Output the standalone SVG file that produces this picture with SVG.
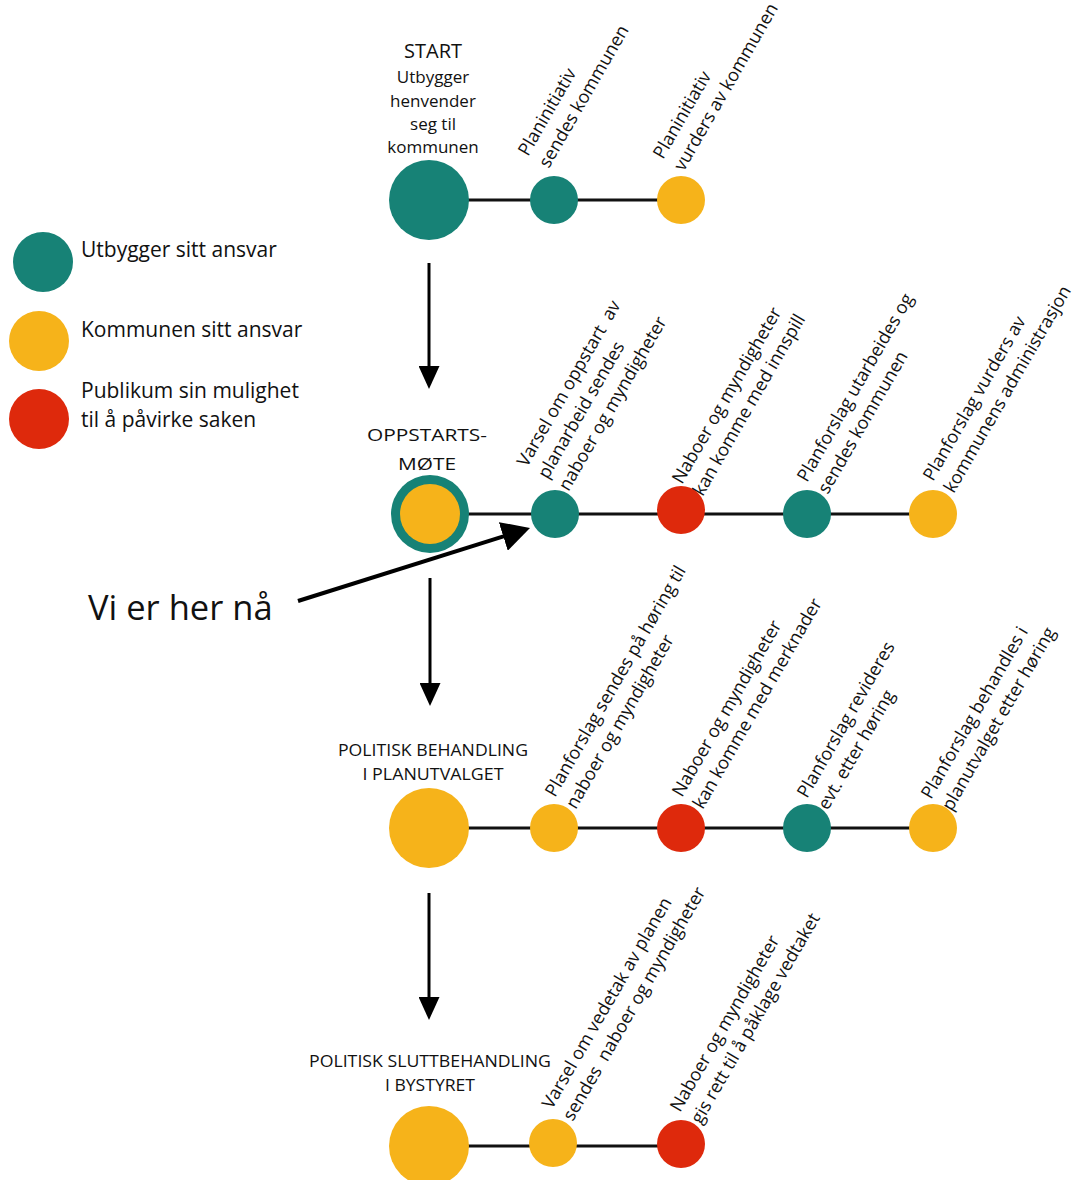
<svg xmlns="http://www.w3.org/2000/svg" width="1081" height="1180" viewBox="0 0 1081 1180">
<style>
.teal{fill:#178276}
.yellow{fill:#F6B31A}
.red{fill:#DE290C}
.lbl{font-family:"Open Sans","Noto Sans",sans-serif;font-size:18px;fill:#111}
.leg{font-family:"Open Sans","Noto Sans",sans-serif;font-size:21px;fill:#111}
.hdr{font-family:"Open Sans","Noto Sans",sans-serif;font-size:17px;fill:#111;text-anchor:middle}
.st{font-family:"Open Sans","Noto Sans",sans-serif;font-size:17px;fill:#111;text-anchor:middle}
.pre{white-space:pre}
.ln{stroke:#111;stroke-width:3;fill:none}
.arr{stroke:#000;stroke-width:3;fill:none;marker-end:url(#ah)}
</style>
<defs>
<marker id="ah" markerUnits="userSpaceOnUse" markerWidth="23" markerHeight="21" refX="5" refY="10.5" orient="auto"><path d="M0,0 L23,10.5 L0,21 z" fill="#000"/></marker>
<marker id="ahb" markerUnits="userSpaceOnUse" markerWidth="28" markerHeight="30" refX="6" refY="15" orient="auto"><path d="M0,0 L28,15 L0,30 z" fill="#000"/></marker>
</defs>
<rect width="1081" height="1180" fill="#fff"/>

<g id="connectors">
<line class="ln" x1="429" y1="200" x2="681" y2="200"/>
<line class="ln" x1="430" y1="514" x2="933" y2="514"/>
<line class="ln" x1="429" y1="828" x2="933" y2="828"/>
<line class="ln" x1="429" y1="1146" x2="681" y2="1146"/>
<line class="arr" x1="429" y1="263" x2="429" y2="371"/>
<line class="arr" x1="430" y1="578" x2="430" y2="688"/>
<line class="arr" x1="429" y1="893" x2="429" y2="1002"/>
<line x1="298" y1="601" x2="509" y2="534.6" stroke="#000" stroke-width="4" marker-end="url(#ahb)"/>
</g>

<g id="legend">
<circle class="teal" cx="43" cy="262" r="30"/>
<text class="leg" x="81" y="257">Utbygger sitt ansvar</text>
<circle class="yellow" cx="39" cy="341" r="30"/>
<text class="leg" x="81" y="337">Kommunen sitt ansvar</text>
<circle class="red" cx="39" cy="419" r="30"/>
<text class="leg" x="81" y="398">Publikum sin mulighet</text>
<text class="leg" x="81" y="427">til å påvirke saken</text>
</g>

<g id="here-label">
<text x="88" y="620" font-family="'Open Sans','Noto Sans',sans-serif" font-size="34.5" fill="#111">Vi er her nå</text>
</g>

<g id="start">
<circle class="teal" cx="429" cy="200" r="40"/>
<text font-family="'Open Sans','Noto Sans',sans-serif" font-size="20" fill="#111" text-anchor="middle" x="433" y="58">START</text>
<text class="st" x="433" y="83">Utbygger</text>
<text class="st" x="433" y="107">henvender</text>
<text class="st" x="433" y="130">seg til</text>
<text class="st" x="433" y="153">kommunen</text>
</g>
<g id="r1n1">
<circle class="teal" cx="554" cy="200" r="24"/>
<text class="lbl" transform="translate(528,157) rotate(-60)"><tspan x="0" y="0">Planinitiativ</tspan><tspan x="0" y="24">sendes kommunen</tspan></text>
</g>
<g id="r1n2">
<circle class="yellow" cx="681" cy="200" r="24"/>
<text class="lbl" transform="translate(663,160) rotate(-60)"><tspan x="0" y="0">Planinitiativ</tspan><tspan x="0" y="24">vurders av kommunen</tspan></text>
</g>

<g id="oppstart">
<circle class="teal" cx="430" cy="514" r="39"/>
<circle class="yellow" cx="430" cy="514" r="30"/>
<text class="hdr" x="427" y="441" font-size="19" textLength="120" lengthAdjust="spacingAndGlyphs">OPPSTARTS-</text>
<text class="hdr" x="427" y="470" font-size="19" textLength="58" lengthAdjust="spacingAndGlyphs">MØTE</text>
</g>
<g id="r2n1">
<circle class="teal" cx="555" cy="514" r="24"/>
<text class="lbl" transform="translate(527,468) rotate(-60)"><tspan class="pre" x="0" y="0">Varsel om oppstart  av</tspan><tspan x="0" y="24">planarbeid sendes</tspan><tspan x="0" y="48">naboer og myndigheter</tspan></text>
</g>
<g id="r2n2">
<circle class="red" cx="681" cy="510" r="24"/>
<text class="lbl" transform="translate(682,485) rotate(-60)"><tspan x="0" y="0">Naboer og myndigheter</tspan><tspan x="0" y="24">kan komme med innspill</tspan></text>
</g>
<g id="r2n3">
<circle class="teal" cx="807" cy="514" r="24"/>
<text class="lbl" transform="translate(807,483) rotate(-60)"><tspan x="0" y="0">Planforslag utarbeides og</tspan><tspan x="0" y="24">sendes kommunen</tspan></text>
</g>
<g id="r2n4">
<circle class="yellow" cx="933" cy="514" r="24"/>
<text class="lbl" transform="translate(933,482) rotate(-60)"><tspan x="0" y="0">Planforslag vurders av</tspan><tspan x="0" y="24">kommunens administrasjon</tspan></text>
</g>

<g id="planutvalg">
<circle class="yellow" cx="429" cy="828" r="40"/>
<text class="hdr" x="433" y="756" textLength="190" lengthAdjust="spacingAndGlyphs">POLITISK BEHANDLING</text>
<text class="hdr" x="433" y="780" textLength="141" lengthAdjust="spacingAndGlyphs">I PLANUTVALGET</text>
</g>
<g id="r3n1">
<circle class="yellow" cx="554" cy="828" r="24"/>
<text class="lbl" transform="translate(555,798) rotate(-60)"><tspan x="0" y="0">Planforslag sendes på høring til</tspan><tspan x="0" y="24">naboer og myndigheter</tspan></text>
</g>
<g id="r3n2">
<circle class="red" cx="681" cy="828" r="24"/>
<text class="lbl" transform="translate(682,798) rotate(-60)"><tspan x="0" y="0">Naboer og myndigheter</tspan><tspan x="0" y="24">kan komme med merknader</tspan></text>
</g>
<g id="r3n3">
<circle class="teal" cx="807" cy="828" r="24"/>
<text class="lbl" transform="translate(807,799) rotate(-60)"><tspan x="0" y="0">Planforslag revideres</tspan><tspan x="0" y="24">evt. etter høring</tspan></text>
</g>
<g id="r3n4">
<circle class="yellow" cx="933" cy="828" r="24"/>
<text class="lbl" transform="translate(931,800) rotate(-60)"><tspan x="0" y="0">Planforslag behandles i</tspan><tspan x="0" y="24">planutvalget etter høring</tspan></text>
</g>

<g id="bystyret">
<circle class="yellow" cx="429" cy="1146" r="40"/>
<text class="hdr" x="430" y="1067" textLength="242" lengthAdjust="spacingAndGlyphs">POLITISK SLUTTBEHANDLING</text>
<text class="hdr" x="430" y="1091" textLength="90" lengthAdjust="spacingAndGlyphs">I BYSTYRET</text>
</g>
<g id="r4n1">
<circle class="yellow" cx="553" cy="1143" r="24"/>
<text class="lbl" transform="translate(552,1110) rotate(-60)"><tspan x="0" y="0">Varsel om vedetak av planen</tspan><tspan class="pre" x="0" y="24">sendes  naboer og myndigheter</tspan></text>
</g>
<g id="r4n2">
<circle class="red" cx="681" cy="1144" r="24"/>
<text class="lbl" transform="translate(680,1113) rotate(-60)"><tspan x="0" y="0">Naboer og myndigheter</tspan><tspan x="0" y="24">gis rett til å påklage vedtaket</tspan></text>
</g>
</svg>
